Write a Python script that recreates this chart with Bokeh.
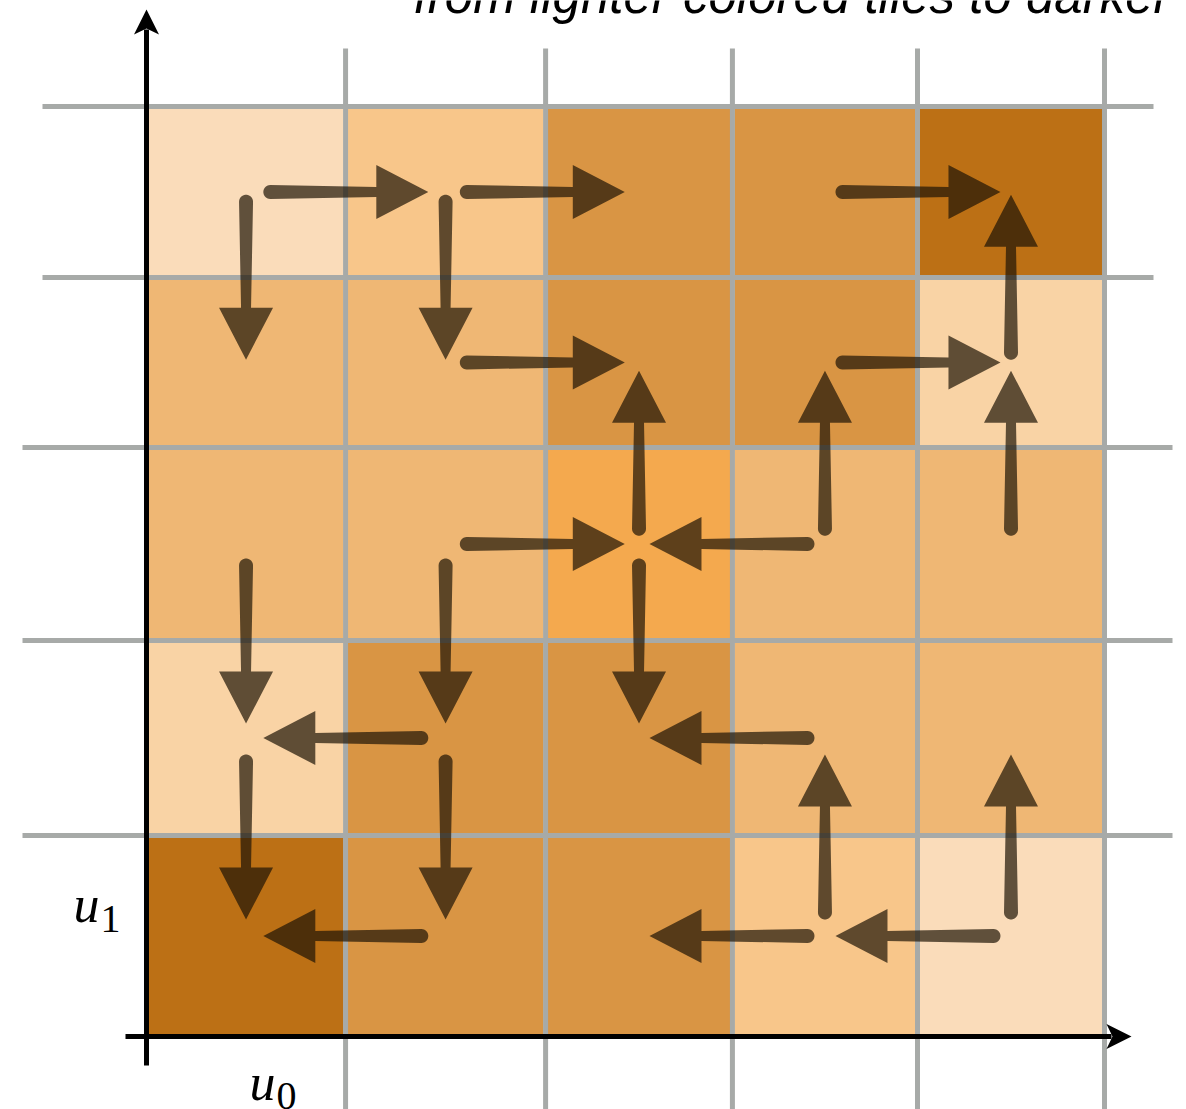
import numpy as np
from bokeh.plotting import figure
from bokeh.models import Range1d
from bokeh.core.properties import value
from bokeh.embed import file_html
from bokeh.resources import INLINE

# ---------------- data ----------------
# tile boundaries along u0 and u1 (quantisation bins)
u0_edges = [0.0, 1.039, 2.083, 3.058, 4.024, 5.0]
u1_edges = [0.0, 1.081, 2.129, 3.167, 4.081, 5.0]

palette = {
    "very_light": "#fadcba",
    "pale": "#f9d3a5",
    "light": "#f8c68a",
    "mid": "#efb774",
    "bright": "#f4a94e",
    "dark": "#d99544",
    "darkest": "#bc7015",
}

# tile shade per cell, row index = u1 bin (0 = bottom), column = u0 bin
tile_levels = [
    ["darkest", "dark", "dark", "light", "very_light"],
    ["pale", "dark", "dark", "mid", "mid"],
    ["mid", "mid", "bright", "mid", "mid"],
    ["mid", "mid", "dark", "dark", "pale"],
    ["very_light", "light", "dark", "dark", "darkest"],
]

# moves between tiles (u0 bin, u1 bin) -> (u0 bin, u1 bin)
moves_from = [(0, 4), (1, 4), (3, 4), (0, 4), (1, 4), (4, 3),
              (1, 3), (3, 3), (2, 2), (3, 2), (4, 2),
              (1, 2), (3, 2), (0, 2), (1, 2), (2, 2),
              (1, 1), (3, 1), (3, 0), (4, 0), (0, 1), (1, 1),
              (1, 0), (3, 0), (4, 0)]
moves_to = [(1, 4), (2, 4), (4, 4), (0, 3), (1, 3), (4, 4),
            (2, 3), (4, 3), (2, 3), (3, 3), (4, 3),
            (2, 2), (2, 2), (0, 1), (1, 1), (2, 1),
            (0, 1), (2, 1), (3, 1), (4, 1), (0, 0), (1, 0),
            (0, 0), (2, 0), (3, 0)]

title_text = "from lighter colored tiles to darker"
x_label = ("u", "0")
y_label = ("u", "1")

# ---------------- layout / scale ----------------
W, H = 1186, 1109
SX, SY = 191.6, 186.0          # pixels per data unit
OX, OY = 146.0, 1036.0         # screen position of the origin
PAGE = 0.0


def sx(px):
    return (px - OX) / SX


def sy(py):
    return (OY - py) / SY


def sy_text(py, size):
    # compensate the renderer's baseline offset for text glyphs
    return sy(py - 0.32 * size)


x_start, x_end = sx(PAGE), sx(PAGE + W)
y_start, y_end = sy(PAGE + H), sy(PAGE)

p = figure(width=W, height=H, x_range=Range1d(x_start, x_end),
           y_range=Range1d(y_start, y_end), output_backend="svg",
           toolbar_location=None, x_axis_location=None, y_axis_location=None,
           min_border=0)
p.outline_line_color = None
p.background_fill_color = "white"
p.border_fill_color = "white"
for g in p.grid:
    g.visible = False

# ---------------- tiles ----------------
ix, iy = 2.0 / SX, 2.0 / SY
L, R, T, B, C = [], [], [], [], []
for r, row in enumerate(tile_levels):
    for c, lev in enumerate(row):
        L.append(u0_edges[c] + ix)
        R.append(u0_edges[c + 1] - ix)
        B.append(u1_edges[r] + iy)
        T.append(u1_edges[r + 1] - iy)
        C.append(palette[lev])
p.quad(left=L, right=R, top=T, bottom=B, fill_color=C, line_color=None)

# ---------------- grid lines ----------------
grid_col = "#a7aaa8"
gx = u0_edges[1:]
p.segment(x0=gx, y0=[y_start] * len(gx), x1=gx,
          y1=[u1_edges[-1] + 58 / SY] * len(gx),
          line_color=grid_col, line_width=5)
hy = u1_edges[1:]
hx0 = [-124 / SX if i < 3 else -104 / SX for i in range(len(hy))]
hx1 = [u0_edges[-1] + (68 / SX if i < 3 else 49 / SX) for i in range(len(hy))]
p.segment(x0=hx0, y0=hy, x1=hx1, y1=hy, line_color=grid_col, line_width=5)

# ---------------- axes with arrowheads ----------------
ax_top = sy(9)
ax_right = sx(1131)
p.segment(x0=[0, -21 / SX], y0=[-29 / SY, 0], x1=[0, ax_right - 20 / SX],
          y1=[ax_top - 20 / SY, 0], line_color="black", line_width=5)
head_len, head_w, notch = 25.0, 12.5, 19.0
p.patches(
    xs=[[0, -head_w / SX, 0, head_w / SX],
        [ax_right, ax_right - head_len / SX, ax_right - notch / SX, ax_right - head_len / SX]],
    ys=[[ax_top, ax_top - head_len / SY, ax_top - notch / SY, ax_top - head_len / SY],
        [0, head_w / SY, 0, -head_w / SY]],
    fill_color="black", line_color=None)

# ---------------- move arrows ----------------
A_LEN, HEAD_L, HEAD_W, TAIL_R, SHAFT_W = 165.0, 52.0, 27.0, 7.0, 5.0


def centre(cell):
    c, r = cell
    return (u0_edges[c] + u0_edges[c + 1]) / 2, (u1_edges[r] + u1_edges[r + 1]) / 2


xs_all, ys_all = [], []
theta = np.linspace(np.pi / 2, 3 * np.pi / 2, 14)
local = [(TAIL_R + TAIL_R * np.cos(t), TAIL_R * np.sin(t)) for t in theta]
local += [(A_LEN - HEAD_L, -SHAFT_W), (A_LEN - HEAD_L, -HEAD_W), (A_LEN, 0.0),
          (A_LEN - HEAD_L, HEAD_W), (A_LEN - HEAD_L, SHAFT_W)]
for a, b in zip(moves_from, moves_to):
    x0, y0 = centre(a)
    x1, y1 = centre(b)
    x0p, y0p, x1p, y1p = x0 * SX, y0 * SY, x1 * SX, y1 * SY
    dx, dy = x1p - x0p, y1p - y0p
    n = np.hypot(dx, dy)
    dx, dy = dx / n, dy / n
    nx, ny = -dy, dx
    mx, my = (x0p + x1p) / 2, (y0p + y1p) / 2
    tx, ty = mx - dx * A_LEN / 2, my - dy * A_LEN / 2
    xs_all.append([(tx + t * dx + s * nx) / SX for t, s in local])
    ys_all.append([(ty + t * dy + s * ny) / SY for t, s in local])
p.patches(xs=xs_all, ys=ys_all, fill_color="#1e1405", fill_alpha=0.7,
          line_color=None)

# ---------------- texts ----------------
p.text(x=[sx(1170)], y=[sy_text(11, 51)], text=[title_text],
       text_font=value("Liberation Sans"), text_font_style="italic",
       text_font_size="51px", text_align="right", text_baseline="alphabetic",
       text_color="black")

p.text(x=[sx(73), sx(249)], y=[sy_text(921, 52), sy_text(1099, 52)],
       text=[y_label[0], x_label[0]],
       text_font=value("Liberation Serif"), text_font_style="italic",
       text_font_size="52px", text_align="left", text_baseline="alphabetic",
       text_color="black")
p.text(x=[sx(100), sx(276)], y=[sy_text(931, 40), sy_text(1108, 40)],
       text=[y_label[1], x_label[1]],
       text_font=value("Liberation Serif"), text_font_style="normal",
       text_font_size="40px", text_align="left", text_baseline="alphabetic",
       text_color="black")

open("out.html", "w").write(file_html(p, INLINE))
